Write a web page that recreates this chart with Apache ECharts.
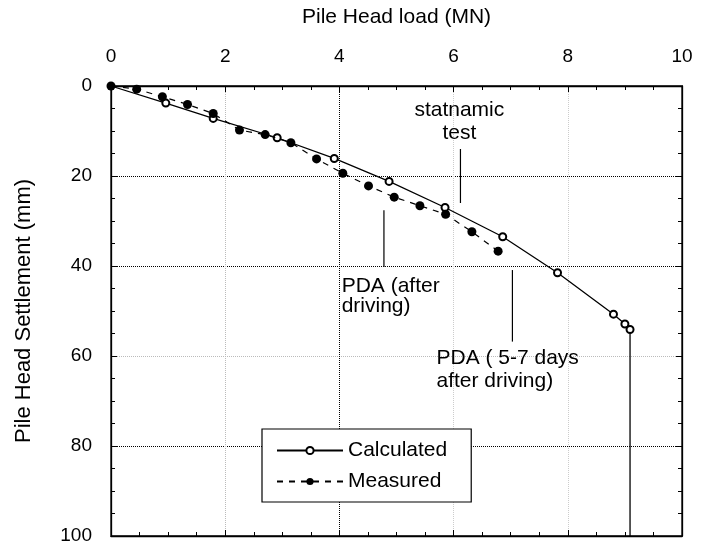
<!DOCTYPE html>
<html>
<head>
<meta charset="utf-8">
<script src="https://cdn.jsdelivr.net/npm/echarts@6/dist/echarts.min.js"></script>
<style>html,body{margin:0;padding:0;background:#fff}#c{width:701px;height:551px}</style>
</head>
<body>
<div id="c"></div>
<script>
// Calculated curve (open circles, solid line): load MN, settlement mm
const calcLoad = [0, 0.96, 1.79, 2.91, 3.91, 4.87, 5.85, 6.86, 7.82, 8.80, 9.00, 9.09, 9.09];
const calcSettle = [0, 3.8, 7.2, 11.5, 16.1, 21.2, 27.0, 33.5, 41.5, 50.7, 52.9, 54.1, 100];
// Measured (filled circles, dashed line)
const measLoad = [0, 0.45, 0.90, 1.34, 1.79, 2.25, 2.70, 3.15, 3.60, 4.06, 4.51, 4.96, 5.41, 5.86, 6.32, 6.78];
const measSettle = [0, 0.7, 2.4, 4.1, 6.1, 9.8, 10.8, 12.6, 16.2, 19.4, 22.2, 24.7, 26.6, 28.5, 32.4, 36.7];
const xTicks = [0, 2, 4, 6, 8, 10];
const yTicks = [0, 20, 40, 60, 80, 100];
// annotations: text lines, text x, text y (data), pointer line x, y1, y2
const notes = [
  {lines: ['statnamic', 'test'], x: 6.10, y: [5.3, 10.4], lx: 6.12, ly: [14, 26], align: 'center'},
  {lines: ['PDA (after', 'driving)'], x: 4.04, y: [44.4, 49.0], lx: 4.78, ly: [27.6, 40.2], align: 'left'},
  {lines: ['PDA ( 5-7 days', 'after driving)'], x: 5.70, y: [60.4, 65.6], lx: 7.03, ly: [40.9, 56.8], align: 'left'}
];

const FONT = 'Liberation Sans, Arial, Helvetica, sans-serif';
const chart = echarts.init(document.getElementById('c'), null, {renderer: 'canvas'});
const calcData = calcLoad.map((v, i) => {
  const d = {value: [v, calcSettle[i]]};
  if (i === calcLoad.length - 1 || i === 0) d.symbol = 'none';
  return d;
});
const measData = measLoad.map((v, i) => [v, measSettle[i]]);

function axisCommon() {
  return {
    axisLine: {show: true, onZero: false, lineStyle: {color: '#000', width: 1.3}},
    axisTick: {show: true, inside: true, length: 6, lineStyle: {color: '#000'}},
    minorTick: {show: true, splitNumber: 4, length: 4, lineStyle: {color: '#000'}}
  };
}

chart.setOption({
  backgroundColor: '#fff',
  animation: false,
  grid: {left: 111, right: 19, top: 86, bottom: 15, show: true, borderColor: '#000', borderWidth: 1.3, backgroundColor: 'rgba(0,0,0,0)'},
  xAxis: [
    Object.assign({
      type: 'value', position: 'top', min: 0, max: 10, interval: 2,
      name: 'Pile Head load (MN)', nameLocation: 'middle', nameGap: 58,
      nameTextStyle: {fontFamily: FONT, fontSize: 21, color: '#000'},
      axisLabel: {fontFamily: FONT, fontSize: 19, color: '#000', margin: 20,
        formatter: v => xTicks.includes(v) ? String(v) : ''},
      splitLine: {show: true, lineStyle: {type: 'dotted', width: 1,
        color: ['rgba(0,0,0,0)', '#bbb', '#000', '#ccc', '#ccc', 'rgba(0,0,0,0)']}}
    }, axisCommon()),
    Object.assign({
      type: 'value', position: 'bottom', min: 0, max: 10, interval: 2,
      axisLabel: {show: false}, splitLine: {show: false}
    }, axisCommon())
  ],
  yAxis: [
    Object.assign({
      type: 'value', inverse: true, min: 0, max: 100, interval: 20, position: 'left',
      name: 'Pile Head Settlement (mm)', nameLocation: 'middle', nameGap: 76,
      nameTextStyle: {fontFamily: FONT, fontSize: 22, color: '#000'},
      axisLabel: {fontFamily: FONT, fontSize: 19, color: '#000', margin: 19,
        formatter: v => yTicks.includes(v) ? String(v) : ''},
      splitLine: {show: true, lineStyle: {type: 'dotted', width: 1,
        color: ['rgba(0,0,0,0)', '#000', '#000', '#bbb', '#000', 'rgba(0,0,0,0)']}}
    }, axisCommon()),
    Object.assign({
      type: 'value', inverse: true, min: 0, max: 100, interval: 20, position: 'right',
      axisLabel: {show: false}, splitLine: {show: false}
    }, axisCommon())
  ],
  legend: {
    orient: 'vertical', left: 262, top: 429,
    backgroundColor: '#fff', borderColor: '#000', borderWidth: 1.2,
    padding: [11, 24, 10, 14], itemGap: 10, itemWidth: 66, itemHeight: 9,
    textStyle: {fontFamily: FONT, fontSize: 21, color: '#000'},
    data: ['Calculated', 'Measured']
  },
  series: [
    {
      name: 'Calculated', type: 'line', data: calcData,
      symbol: 'emptyCircle', symbolSize: 7,
      lineStyle: {color: '#000', width: 1.3},
      itemStyle: {color: '#000', borderColor: '#000', borderWidth: 1.2},
      z: 3
    },
    {
      name: 'Measured', type: 'line', data: measData,
      symbol: 'circle', symbolSize: 9,
      lineStyle: {color: '#000', width: 1.2, type: [6, 6]},
      itemStyle: {color: '#000'},
      z: 4
    }
  ]
});

// annotations positioned through the axis scales
const g = [];
notes.forEach(n => {
  const p1 = chart.convertToPixel({xAxisIndex: 0, yAxisIndex: 0}, [n.lx, n.ly[0]]);
  const p2 = chart.convertToPixel({xAxisIndex: 0, yAxisIndex: 0}, [n.lx, n.ly[1]]);
  g.push({type: 'line', shape: {x1: p1[0], y1: p1[1], x2: p2[0], y2: p2[1]},
    style: {stroke: '#000', lineWidth: 1.2}, z: 10});
  n.lines.forEach((t, i) => {
    const p = chart.convertToPixel({xAxisIndex: 0, yAxisIndex: 0}, [n.x, n.y[i]]);
    g.push({type: 'text', x: p[0], y: p[1],
      style: {text: t, fill: '#000', font: '21px ' + FONT, align: n.align, verticalAlign: 'middle'}, z: 10});
  });
});
chart.setOption({graphic: g});
</script>
</body>
</html>
